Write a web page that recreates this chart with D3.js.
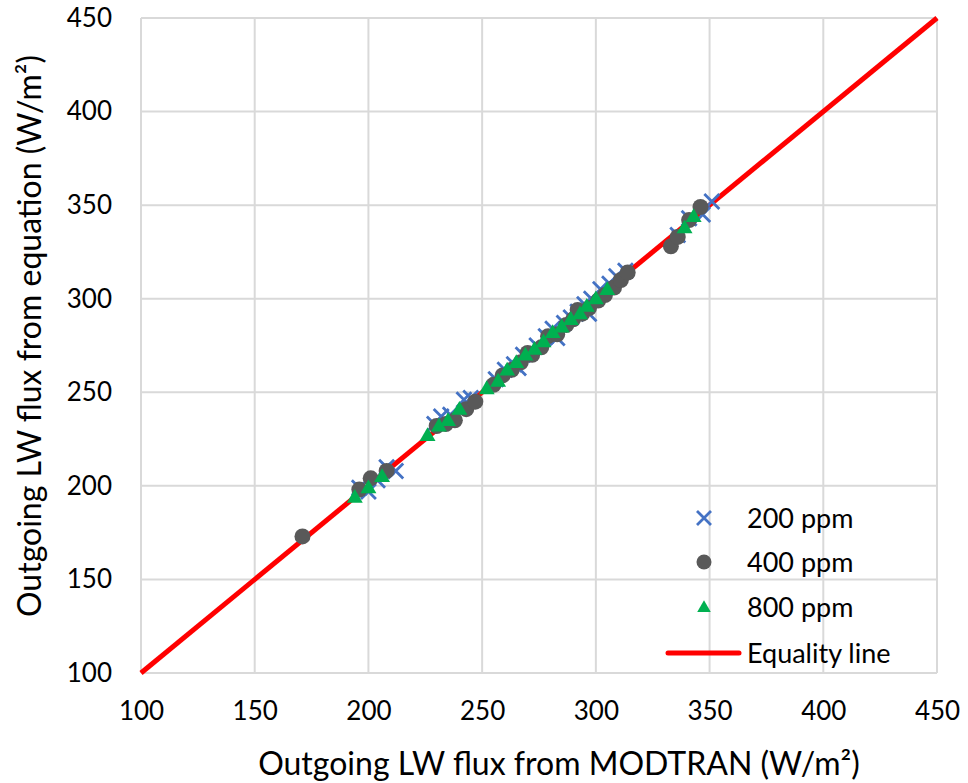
<!DOCTYPE html>
<html><head><meta charset="utf-8">
<script src="https://cdn.jsdelivr.net/npm/d3@7"></script>
<style>body{margin:0;background:#fff}svg{display:block}text{font-family:Lato,"Open Sans",sans-serif;fill:#000}</style>
</head><body><svg id="c" width="968" height="783"></svg>
<script>
const xTicks=[100,150,200,250,300,350,400,450];
const yTicks=[100,150,200,250,300,350,400,450];
const series200=[[196,199],[200,197],[204,203],[208,210],[212,208],[229,233],[232,237],[236,238],[242,246],[245,247],[256,257],[260,262],[264,265],[268,270],[274,275],[278,280],[281,284],[286,287],[289,290],[292,293],[295,297],[298,300],[302,305],[306,308],[309,312],[313,315],[336,334],[341,343],[351,352],[347,345],[266,263],[283,279],[297,292]];
const series400=[[171,173],[196,198],[201,204],[208,208],[230,232],[234,233],[238,235],[243,241],[247,245],[255,254],[259,259],[263,262],[267,266],[272,270],[276,274],[279,280],[283,281],[287,286],[290,289],[294,292],[297,295],[301,299],[304,302],[308,306],[311,310],[314,314],[333,328],[336,333],[341,342],[346,349],[270,271],[292,294]];
const series800=[[194,194],[200,199],[206,205],[226,227],[231,232],[235,235],[240,241],[252,252],[257,256],[261,262],[265,266],[269,270],[273,273],[277,277],[281,282],[285,285],[289,289],[293,292],[296,296],[300,300],[305,305],[339,338],[343,344]];
const equality=[[100,100],[450,450]];
const legendLabels=["200 ppm","400 ppm","800 ppm","Equality line"];

const svg=d3.select("#c");
const x=d3.scaleLinear().domain([100,450]).range([141,937]);
const y=d3.scaleLinear().domain([100,450]).range([673,18]);
const grid="#D9D9D9";
const g=svg.append("g");
xTicks.forEach(t=>g.append("line").attr("x1",x(t)).attr("x2",x(t)).attr("y1",y(100)).attr("y2",y(450)).attr("stroke",grid).attr("stroke-width",2));
yTicks.forEach(t=>g.append("line").attr("y1",y(t)).attr("y2",y(t)).attr("x1",x(100)).attr("x2",x(450)).attr("stroke",grid).attr("stroke-width",2));

const xa=svg.append("g").attr("transform",`translate(0,${y(100)})`).call(d3.axisBottom(x).tickValues(xTicks).tickSize(0).tickPadding(29));
xa.select(".domain").remove();
xa.selectAll("text").attr("font-size",26).attr("font-family","Lato");
const ya=svg.append("g").attr("transform",`translate(${x(100)},0)`).call(d3.axisLeft(y).tickValues(yTicks).tickSize(0).tickPadding(29));
ya.select(".domain").remove();
ya.selectAll("text").attr("font-size",26).attr("font-family","Lato");

svg.append("text").attr("x",559).attr("y",775).attr("text-anchor","middle").attr("font-size",32).text("Outgoing LW flux from MODTRAN (W/m²)");
svg.append("text").attr("transform","translate(41,336) rotate(-90)").attr("text-anchor","middle").attr("font-size",32).text("Outgoing LW flux from equation (W/m²)");

const line=d3.line().x(d=>x(d[0])).y(d=>y(d[1]));
svg.append("path").datum(equality).attr("d",line).attr("stroke","#FF0000").attr("stroke-width",5).attr("fill","none");

const cross=(sel,s)=>sel.append("path").attr("d",`M${-s},${-s}L${s},${s}M${-s},${s}L${s},${-s}`).attr("stroke","#4472C4").attr("stroke-width",2.8).attr("fill","none");
const tri=d3.symbol().type(d3.symbolTriangle).size(110);

series200.forEach(d=>{const p=svg.append("g").attr("transform",`translate(${x(d[0])},${y(d[1])})`);cross(p,7.5);});
svg.append("g").selectAll("circle").data(series400).join("circle").attr("cx",d=>x(d[0])).attr("cy",d=>y(d[1])).attr("r",8).attr("fill","#595959");
svg.append("g").selectAll("path").data(series800).join("path").attr("d",tri).attr("transform",d=>`translate(${x(d[0])},${y(d[1])+1})`).attr("fill","#00B050");

// legend
const lg=svg.append("g");
const lx=704, ly=[518,562,607,653];
cross(lg.append("g").attr("transform",`translate(${lx},${ly[0]})`),7);
lg.append("circle").attr("cx",lx).attr("cy",ly[1]).attr("r",7.5).attr("fill","#595959");
lg.append("path").attr("d",d3.symbol().type(d3.symbolTriangle).size(80)).attr("transform",`translate(${lx},${ly[2]+1})`).attr("fill","#00B050");
lg.append("line").attr("x1",668).attr("x2",739).attr("y1",ly[3]).attr("y2",ly[3]).attr("stroke","#FF0000").attr("stroke-width",5).attr("stroke-linecap","round");
legendLabels.forEach((t,i)=>lg.append("text").attr("x",747).attr("y",ly[i]+10).attr("font-size",27).text(t));
</script></body></html>
